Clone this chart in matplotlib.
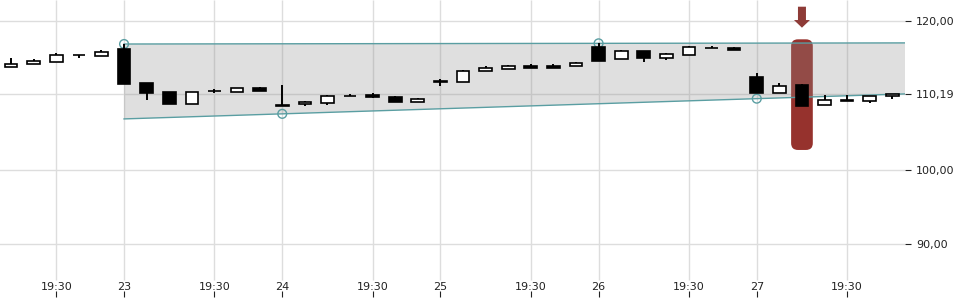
import matplotlib
matplotlib.use('Agg')
import matplotlib.pyplot as plt
from matplotlib.patches import FancyBboxPatch, FancyArrow, Polygon
import numpy as np

# hourly candles, from the 22nd 17:30 up to the 27th 21:30
opens = [113.87, 114.19, 114.54, 115.46, 115.34, 116.24, 111.68, 110.47, 108.90, 110.62,
         110.51, 111.01, 108.68, 108.82, 109.03, 109.92, 110.03, 109.80, 109.09, 111.98,
         111.77, 113.33, 113.60, 113.92, 113.95, 113.92, 116.47, 114.94, 115.93, 115.07,
         115.48, 116.35, 116.34, 112.48, 110.30, 111.41, 108.68, 109.44, 109.22, 109.89]
highs = [115.03, 114.94, 115.66, 115.46, 116.07, 116.91, 111.68, 110.47, 110.43, 110.87,
         110.97, 111.14, 111.41, 109.30, 110.07, 110.20, 110.34, 109.93, 109.66, 112.25,
         113.42, 113.92, 114.10, 114.19, 114.22, 114.50, 117.00, 116.11, 115.93, 115.75,
         116.68, 116.64, 116.51, 113.06, 111.68, 111.54, 110.07, 110.03, 109.93, 110.19]
lows = [113.87, 114.19, 114.54, 115.03, 115.34, 111.50, 109.44, 108.90, 108.90, 110.33,
        110.51, 110.64, 108.60, 108.55, 108.77, 109.88, 109.66, 109.09, 109.09, 111.32,
        111.77, 113.33, 113.60, 113.73, 113.75, 113.92, 114.67, 114.94, 114.50, 114.81,
        115.48, 116.31, 116.15, 110.38, 110.30, 108.63, 108.68, 109.22, 109.03, 109.53]
closes = [114.23, 114.59, 115.40, 115.42, 115.84, 111.58, 110.38, 108.90, 110.43, 110.58,
          110.97, 110.64, 108.64, 109.17, 109.89, 109.88, 109.84, 109.09, 109.49, 111.76,
          113.25, 113.65, 113.92, 113.73, 113.75, 114.36, 114.67, 115.93, 115.07, 115.57,
          116.47, 116.31, 116.15, 110.38, 111.23, 108.63, 109.40, 109.22, 109.93, 110.19]

# x axis labels (candle index -> label)
tick_pos = [2, 5, 9, 12, 16, 19, 23, 26, 30, 33, 37]
tick_labels = ['19:30', '23', '19:30', '24', '19:30', '25', '19:30', '26', '19:30', '27', '19:30']
price_ticks = [90.0, 100.0, 120.0]

# channel pivots
upper_idx = [5, 26]
upper_val = [116.91, 117.00]
lower_idx = [12, 33]
lower_val = [107.53, 109.57]
signal_idx = 35

TEAL = '#5a9ea2'
GRID = '#dddddd'
RED = '#96322d'

xlim = (-0.49, 39.56)
ylim = (83.0, 122.82)

fig = plt.figure(figsize=(9.6, 3.0), dpi=100)
ax = fig.add_axes([0, 3.5 / 300, 905 / 960, 296.5 / 300])
ax.set_xlim(*xlim)
ax.set_ylim(*ylim)
for s in ax.spines.values():
    s.set_visible(False)

# grid - vertical lines stop above the labels
yticks = price_ticks + [closes[-1]]
for v in yticks:
    ax.axhline(v, color=GRID, lw=1, zorder=0)
ax.vlines(tick_pos, 16.5 / 296.5, 1, transform=ax.get_xaxis_transform(),
          color=GRID, lw=1, zorder=0)

# pixels per data unit, used to keep the rounded corners round
px_x = 905 / (xlim[1] - xlim[0])
px_y = 296.5 / (ylim[1] - ylim[0])

# highlighted candle
hl = FancyBboxPatch((signal_idx - 0.48, 102.68), 0.96, 117.54 - 102.68,
                    boxstyle='round,pad=0,rounding_size=0.3',
                    mutation_aspect=px_x / px_y, fc=RED, ec='none', zorder=1)
ax.add_patch(hl)
ax.add_patch(FancyArrow(signal_idx, 121.92, 0, -2.82, width=0.354, head_width=0.707,
                        head_length=1.03, length_includes_head=True,
                        fc='#8e3b37', ec='none', zorder=6))

# channel band
up = np.polyfit(upper_idx, upper_val, 1)
lo = np.polyfit(lower_idx, lower_val, 1)
bx = np.array([upper_idx[0], xlim[1]])
uy = np.polyval(up, bx)
ly = np.polyval(lo, bx)
band = Polygon([(bx[0], uy[0]), (bx[1], uy[1]), (bx[1], ly[1]), (bx[0], ly[0])],
               closed=True, fc='#8c8c8c', alpha=0.28, ec='none', zorder=2)
ax.add_patch(band)
ax.plot(bx, uy, color=TEAL, lw=1, zorder=3)
ax.plot(bx, ly, color=TEAL, lw=1, zorder=3)
ax.scatter(upper_idx, upper_val, s=40, facecolors='none', edgecolors=TEAL, lw=1, zorder=3)
ax.scatter(lower_idx, lower_val, s=40, facecolors='none', edgecolors=TEAL, lw=1, zorder=3)

# candles
idx = np.arange(len(closes))
o = np.array(opens)
c = np.array(closes)
ax.vlines(idx, lows, highs, color='black', lw=1.4, zorder=4)
bottoms = np.minimum(o, c)
heights = np.maximum(np.abs(c - o), 0.04)
colors = ['white' if cl > op else 'black' for op, cl in zip(opens, closes)]
ax.bar(idx, heights, bottom=bottoms, width=0.56, color=colors, edgecolor='black',
       linewidth=1.2, zorder=5)

# axes ticks
ax.set_xticks(tick_pos, tick_labels)
ax.tick_params(axis='x', direction='in', length=4, pad=-10.5, labelsize=8,
               colors='#222222')
ax.set_yticks(yticks, [f'{v:.2f}'.replace('.', ',') for v in yticks])
ax.yaxis.tick_right()
ax.tick_params(axis='y', direction='out', length=4, pad=4, labelsize=8,
               colors='#222222')

fig.savefig('out.png', dpi=100)
